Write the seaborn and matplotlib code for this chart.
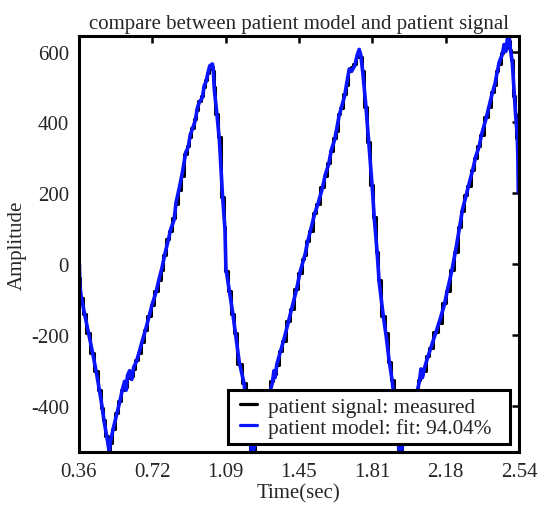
import numpy as np
import pandas as pd
import matplotlib
matplotlib.use("Agg")
import matplotlib.pyplot as plt
import matplotlib.patches as mpatches
import seaborn as sns

# ---- data ----
time_s = [0.360, 0.366, 0.368, 0.375, 0.390, 0.410, 0.431, 0.450, 0.464, 0.478, 0.489, 0.500, 0.514,
          0.520, 0.535, 0.550, 0.565, 0.580, 0.590, 0.598, 0.604, 0.615, 0.625, 0.635, 0.648, 0.662,
          0.678, 0.695, 0.710, 0.728, 0.745, 0.761, 0.775, 0.790, 0.805, 0.819, 0.835, 0.845, 0.860,
          0.875, 0.893, 0.905, 0.915, 0.926, 0.940, 0.950, 0.960, 0.975, 0.985, 0.993, 1.005, 1.012,
          1.025, 1.030, 1.034, 1.046, 1.059, 1.075, 1.087, 1.092, 1.110, 1.125, 1.140, 1.158, 1.182,
          1.200, 1.221, 1.250, 1.280, 1.300, 1.321, 1.330, 1.335, 1.345, 1.360, 1.380, 1.400, 1.420,
          1.440, 1.460, 1.475, 1.485, 1.495, 1.513, 1.530, 1.550, 1.569, 1.585, 1.600, 1.615, 1.630,
          1.640, 1.653, 1.665, 1.680, 1.690, 1.703, 1.715, 1.730, 1.742, 1.752, 1.760, 1.770, 1.785,
          1.800, 1.815, 1.827, 1.840, 1.851, 1.870, 1.885, 1.900, 1.916, 1.935, 1.953, 1.980, 2.010,
          2.035, 2.050, 2.058, 2.065, 2.074, 2.090, 2.110, 2.130, 2.150, 2.173, 2.190, 2.210, 2.230,
          2.248, 2.264, 2.280, 2.295, 2.312, 2.330, 2.345, 2.360, 2.380, 2.396, 2.410, 2.425, 2.435,
          2.446, 2.460, 2.470, 2.478, 2.486, 2.495, 2.500, 2.510, 2.520, 2.527, 2.535, 2.538, 2.540]

model_fit = [0, 0, -60, -90, -135, -190, -248, -305, -351, -400, -445, -480, -529,
             -500, -460, -425, -390, -351, -330, -355, -314, -300, -325, -290, -275, -248,
             -215, -182, -150, -110, -80, -41, -10, 30, 65, 100, 125, 175, 213,
             255, 316, 330, 365, 382, 405, 440, 457, 470, 505, 514, 545, 560,
             565, 540, 495, 430, 354, 194, 100, -13, -80, -135, -200, -276, -337,
             -450, -540, -480, -420, -380, -337, -300, -320, -280, -250, -210, -165, -120,
             -75, -20, 10, 30, 60, 100, 140, 175, 213, 255, 280, 325, 350,
             380, 420, 445, 475, 510, 551, 545, 560, 590, 606, 590, 540, 448,
             340, 230, 128, 40, -50, -140, -200, -270, -331, -440, -545, -480, -420,
             -370, -331, -295, -320, -295, -265, -230, -195, -160, -116, -70, -20, 40,
             100, 156, 190, 225, 261, 305, 330, 370, 410, 448, 480, 510, 540,
             571, 590, 620, 600, 636, 644, 610, 571, 480, 420, 363, 300, 204]

measured = [-20, -40, -70, -95, -140, -195, -250, -300, -355, -405, -440, -485, -525,
            -505, -465, -420, -385, -355, -340, -345, -320, -305, -315, -295, -270, -250,
            -220, -185, -145, -115, -75, -45, -15, 25, 70, 95, 130, 170, 210,
            250, 310, 335, 360, 385, 410, 435, 460, 475, 500, 520, 540, 550,
            555, 545, 500, 425, 360, 190, 105, -20, -75, -140, -195, -280, -335,
            -455, -535, -485, -415, -385, -330, -305, -310, -285, -245, -215, -160, -125,
            -70, -25, 15, 25, 65, 95, 145, 170, 218, 250, 285, 320, 355,
            375, 425, 440, 480, 505, 545, 555, 565, 585, 595, 585, 545, 445,
            345, 225, 132, 35, -45, -145, -195, -275, -325, -445, -540, -485, -415,
            -375, -325, -305, -310, -300, -260, -235, -190, -165, -110, -75, -15, 35,
            105, 150, 195, 220, 265, 300, 335, 365, 415, 443, 485, 505, 545,
            565, 595, 605, 610, 625, 630, 605, 575, 475, 425, 355, 305, 210]

signal_label = "patient signal: measured"
model_label = "patient model: fit: 94.04%"
x_ticks = [0.3633, 0.7267, 1.09, 1.4533, 1.8167, 2.18, 2.5433]
x_ticklabels = ["0.36", "0.72", "1.09", "1.45", "1.81", "2.18", "2.54"]
y_ticks = [-400, -200, 0, 200, 400, 600]

df = pd.DataFrame({"t": time_s, "measured": measured, "model": model_fit})

sns.set_theme(style="white")
plt.rcParams["font.family"] = ["Liberation Serif", "DejaVu Serif"]
plt.rcParams["axes.unicode_minus"] = False
plt.rcParams["xtick.direction"] = "in"
plt.rcParams["ytick.direction"] = "in"

fig = plt.figure(figsize=(5.40, 5.06), dpi=100)
ax = fig.add_axes([0.146, 0.105, 0.815, 0.822])

sns.lineplot(data=df, x="t", y="measured", ax=ax, color="black", linewidth=2.2,
             label=signal_label, sort=False, drawstyle="steps-mid")
sns.lineplot(data=df, x="t", y="model", ax=ax, color="#0a14ff", linewidth=2.6,
             label=model_label, sort=False)

ax.set_xlim(0.3633, 2.5433)
ax.set_ylim(-529, 644)
ax.set_xticks(x_ticks)
ax.set_xticklabels(x_ticklabels)
ax.set_yticks(y_ticks)
ax.tick_params(axis="both", which="both", labelsize=15, length=5, width=1.8,
               top=True, right=True, color="black", pad=7)
for s in ax.spines.values():
    s.set_color("black")
    s.set_linewidth(2.2)

ax.set_title("compare between patient model and patient signal", fontsize=15, pad=6)
ax.set_xlabel("Time(sec)", fontsize=15, labelpad=2)
ax.set_ylabel("Amplitude", fontsize=15)
ax.yaxis.set_label_coords(-0.118, 0.5)

leg = ax.legend(loc="lower right", bbox_to_anchor=(0.952, 0.019), fontsize=15.3,
                handlelength=0.8, handletextpad=0.5, borderpad=0.3, labelspacing=0.05,
                borderaxespad=0.0, frameon=False)
leg.set_zorder(6)
for h in leg.get_lines():
    h.set_linewidth(2.3)

fig.canvas.draw()
bb = leg.get_window_extent()
frame = mpatches.Rectangle((bb.x0 - 6, bb.y0), bb.width + 18, bb.height,
                           transform=None, facecolor="white", edgecolor="black",
                           linewidth=2.2, zorder=5.5)
ax.add_artist(frame)

fig.savefig("out.png", dpi=100)
